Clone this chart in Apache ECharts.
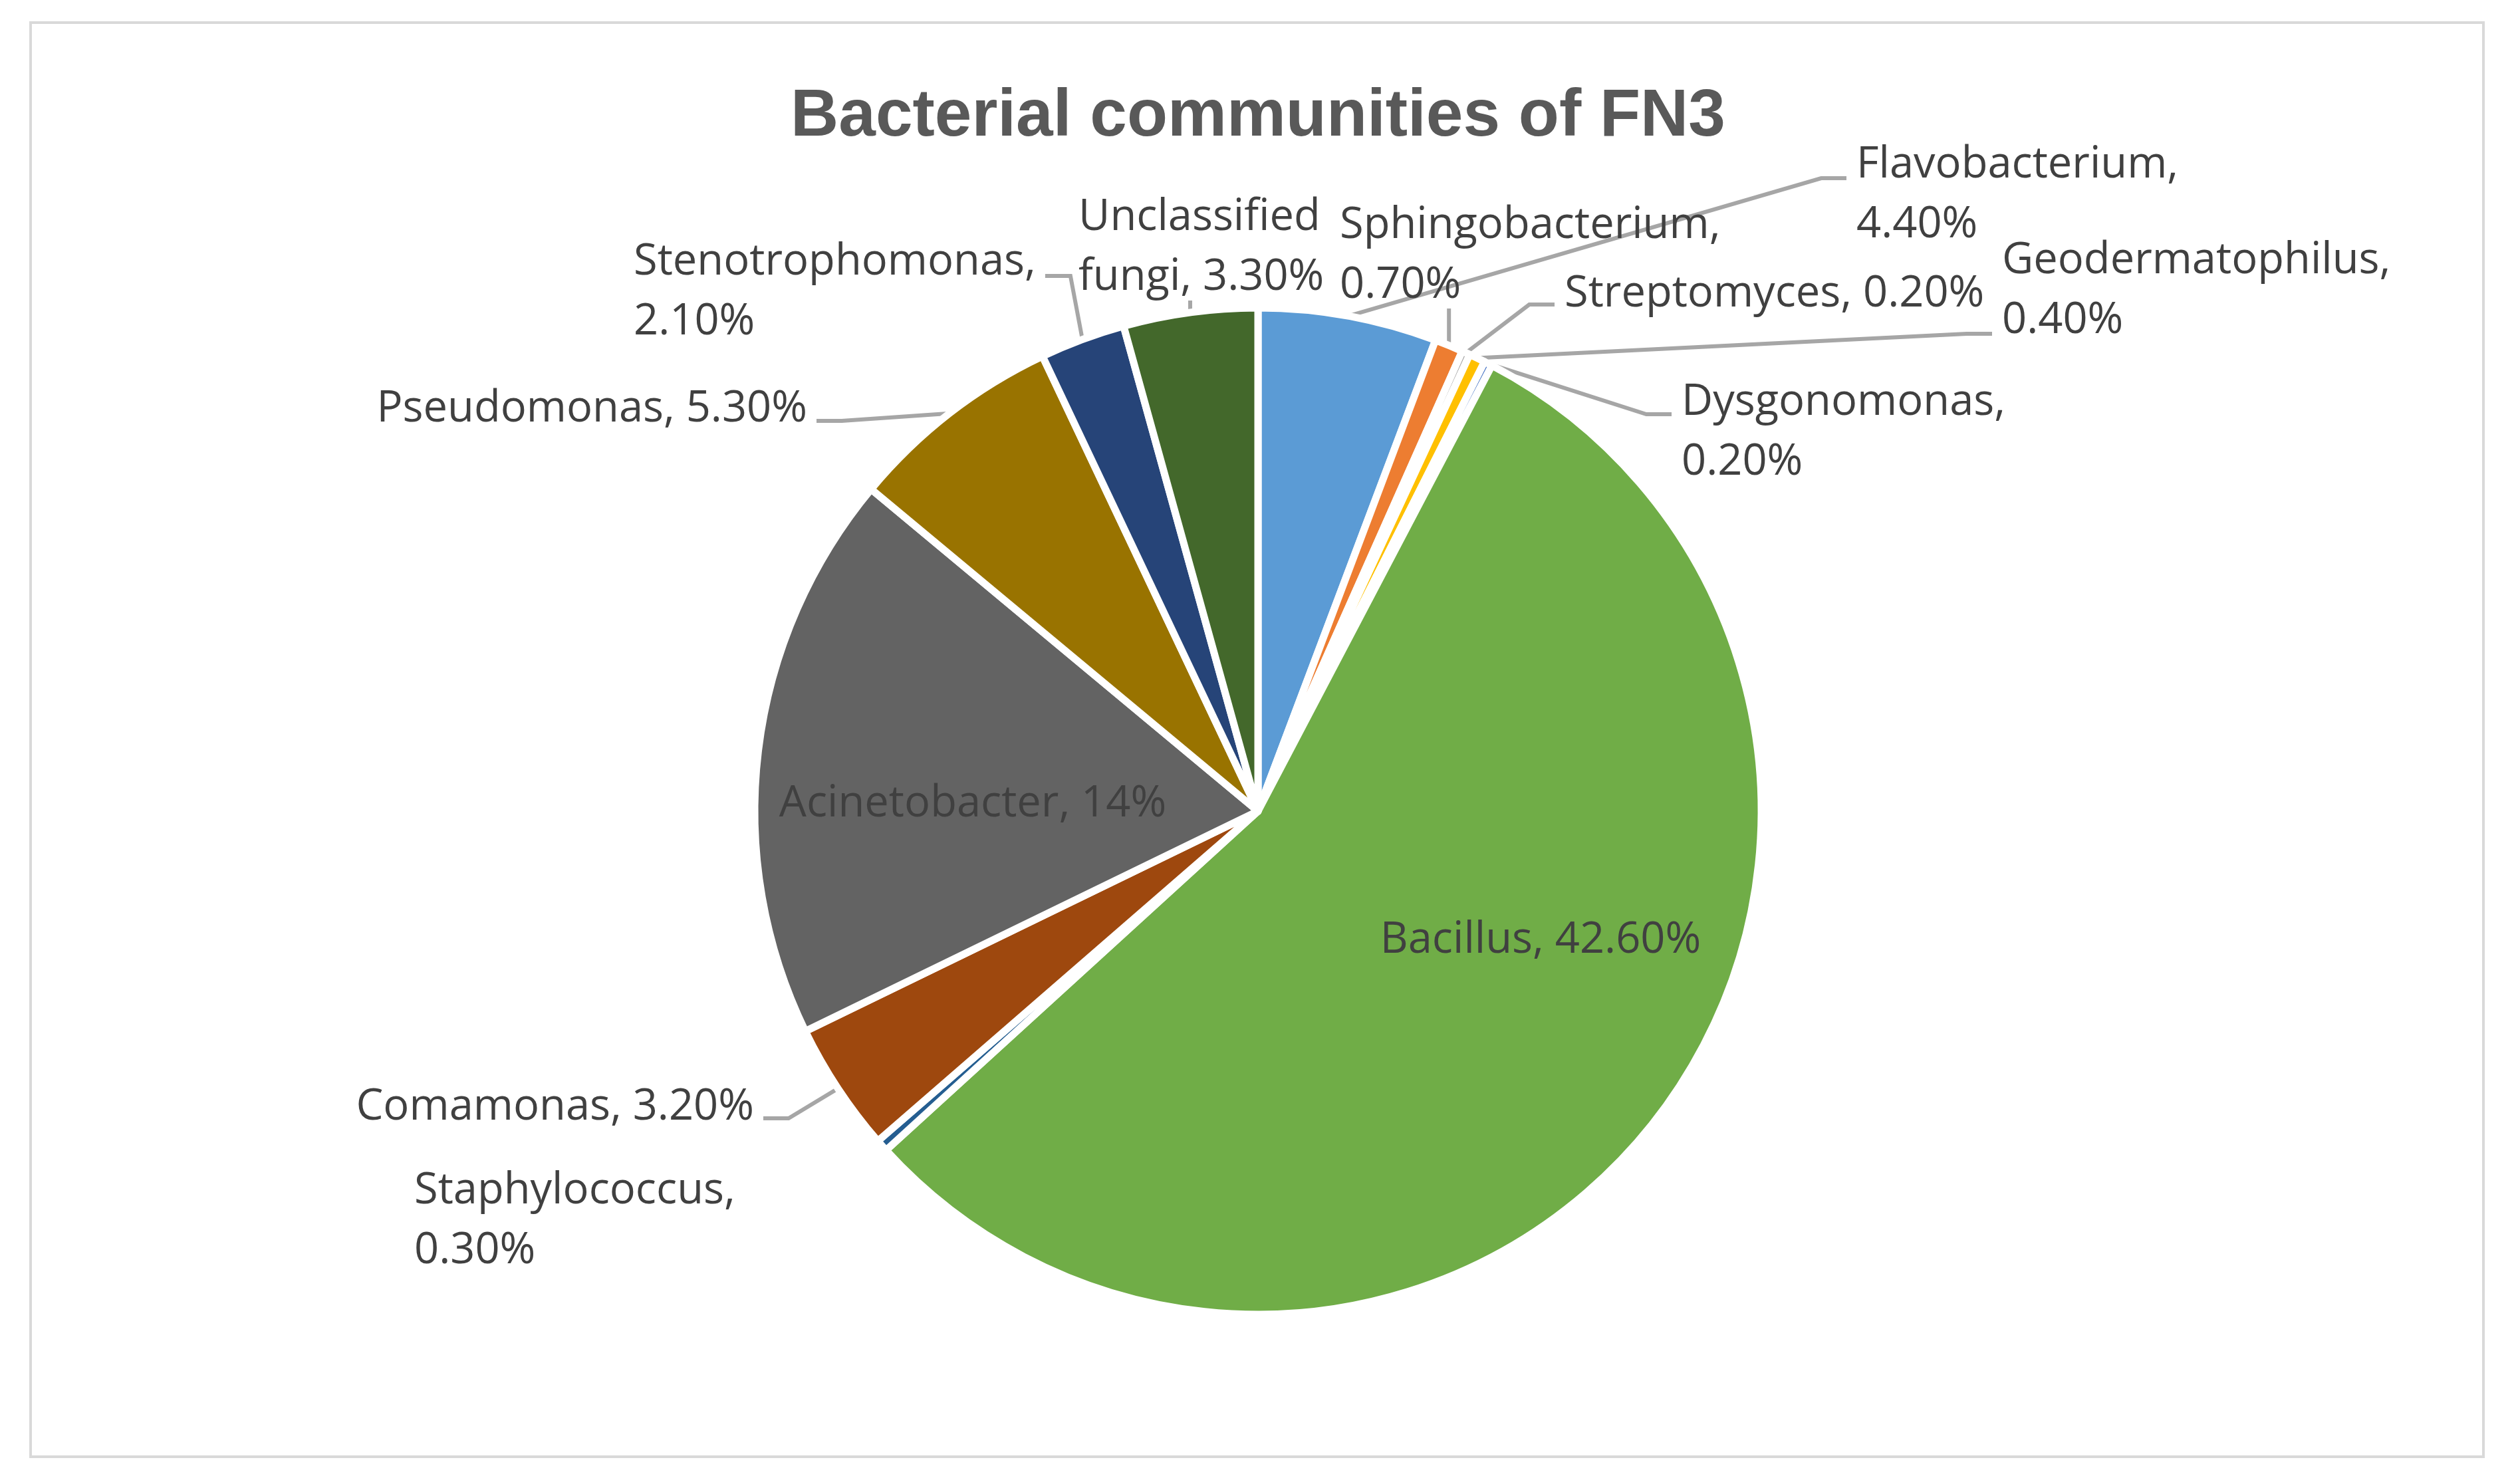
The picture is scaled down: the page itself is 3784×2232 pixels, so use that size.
<!DOCTYPE html>
<html>
<head>
<meta charset="utf-8">
<script src="https://cdn.jsdelivr.net/npm/echarts@6/dist/echarts.min.js"></script>
<style>html,body{margin:0;padding:0;background:#fff}#c{width:3784px;height:2232px}</style>
</head>
<body>
<div id="c"></div>
<script>
// ---- data ----
const categories = ['Flavobacterium','Sphingobacterium','Streptomyces','Geodermatophilus','Dysgonomonas','Bacillus','Staphylococcus','Comamonas','Acinetobacter','Pseudomonas','Stenotrophomonas','Unclassified fungi'];
const values = [4.4, 0.7, 0.2, 0.4, 0.2, 42.6, 0.3, 3.2, 14, 5.3, 2.1, 3.3];
const valueLabels = ['4.40%','0.70%','0.20%','0.40%','0.20%','42.60%','0.30%','3.20%','14%','5.30%','2.10%','3.30%'];
const chartTitle = 'Bacterial communities of FN3';

// ---- style / layout ----
const colors = ['#5B9BD5','#ED7D31','#A5A5A5','#FFC000','#4472C4','#70AD47','#255E91','#9E480E','#636363','#997300','#264478','#43682B'];
// 0 = one line, 1 = break after name, 2 = break after first word of name
const labelWrap = [1,1,0,1,1,0,1,0,0,0,1,2];
// label anchor (x, y, align), leader line side, attach y
const labelCfg = [
  {x: 2792, y: 293, align: 'left',   line: 'left',   ly: 268},
  {x: 2015, y: 384, align: 'left',   line: 'bottom'},
  {x: 2353, y: 442, align: 'left',   line: 'left',   ly: 458},
  {x: 3011, y: 437, align: 'left',   line: 'left',   ly: 502},
  {x: 2529, y: 650, align: 'left',   line: 'left',   ly: 623},
  {x: 2317, y: 1414, align: 'center', line: null},
  {x: 623,  y: 1836, align: 'left',   line: null},
  {x: 1134, y: 1665, align: 'right',  line: 'right',  ly: 1682},
  {x: 1463, y: 1209, align: 'center', line: null},
  {x: 1214, y: 615, align: 'right',  line: 'right',  ly: 633},
  {x: 953,  y: 439, align: 'left',   line: 'right',  ly: 415},
  {x: 1622, y: 372, align: 'left',   line: 'bottom'}
];

function labelText(i) {
  const name = categories[i], v = valueLabels[i];
  if (labelWrap[i] === 1) return name + ',\n' + v;
  if (labelWrap[i] === 2) { const k = name.indexOf(' '); return name.slice(0, k) + '\n' + name.slice(k + 1) + ', ' + v; }
  return name + ', ' + v;
}

const seriesData = categories.map((n, i) => ({
  name: n,
  value: values[i],
  itemStyle: { color: colors[i] },
  labelLine: { show: labelCfg[i].line != null }
}));

const chart = echarts.init(document.getElementById('c'), null, {renderer: 'canvas'});
chart.setOption({
  animation: false,
  backgroundColor: '#ffffff',
  title: {
    text: chartTitle,
    left: 'center',
    top: 121,
    textStyle: { fontFamily: 'Liberation Sans', fontWeight: 'bold', fontSize: 100, color: '#595959' }
  },
  graphic: [{
    type: 'rect', silent: true,
    shape: { x: 46, y: 34, width: 3689, height: 2157 },
    style: { fill: 'none', stroke: '#D9D9D9', lineWidth: 4 }
  }],
  series: [{
    type: 'pie',
    center: [1892, 1220],
    radius: 757,
    startAngle: 90,
    clockwise: true,
    avoidLabelOverlap: false,
    emphasis: { disabled: true },
    itemStyle: { borderColor: '#ffffff', borderWidth: 11 },
    label: {
      show: true,
      position: 'outside',
      formatter: p => labelText(p.dataIndex),
      fontFamily: 'Open Sans',
      fontSize: 65,
      lineHeight: 90,
      color: '#404040'
    },
    labelLine: {
      show: true,
      length: 40,
      length2: 30,
      lineStyle: { color: '#A6A6A6', width: 6 }
    },
    labelLayout: function (p) {
      const L = labelCfg[p.dataIndex];
      const w = p.labelRect.width, h = p.labelRect.height;
      const res = { x: L.x, y: L.y, align: L.align, verticalAlign: 'middle' };
      if (L.line && p.labelLinePoints) {
        const pt0 = p.labelLinePoints[0].slice();
        const left = L.align === 'left' ? L.x : (L.align === 'right' ? L.x - w : L.x - w / 2);
        const right = left + w;
        let pt1, pt2;
        if (L.line === 'bottom') {
          pt2 = [pt0[0], L.y + h / 2 - 10];
          pt1 = [(pt0[0] + pt2[0]) / 2, (pt0[1] + pt2[1]) / 2];
        } else if (L.line === 'left') {
          pt2 = [left - 15, L.ly];
          pt1 = [pt2[0] - 38, L.ly];
        } else {
          pt2 = [right + 14, L.ly];
          pt1 = [pt2[0] + 38, L.ly];
        }
        res.labelLinePoints = [pt0, pt1, pt2];
      }
      return res;
    },
    data: seriesData
  }]
});
</script>
</body>
</html>
